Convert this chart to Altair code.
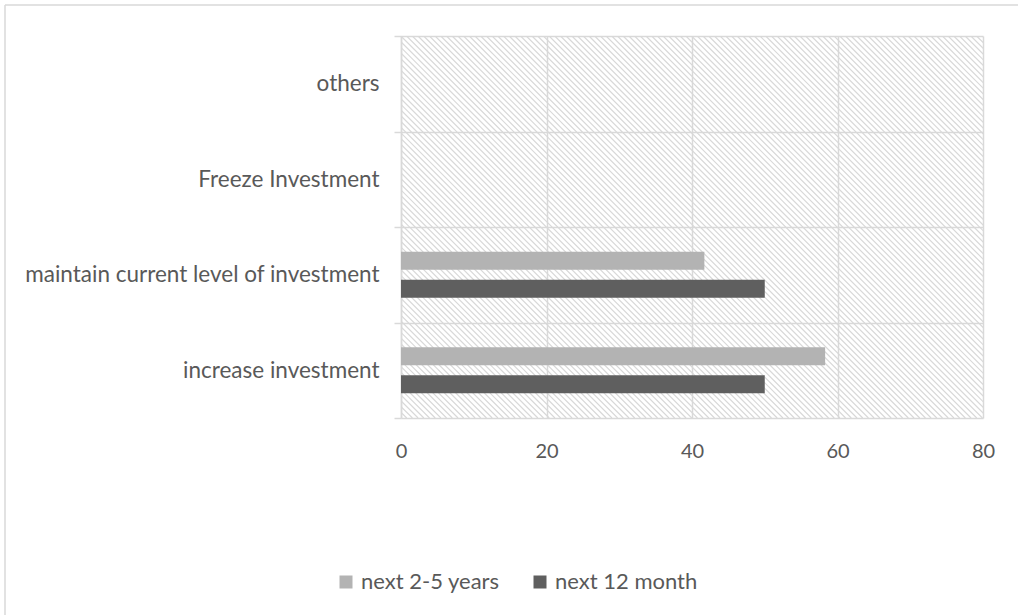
import altair as alt
import numpy as np
import pandas as pd

# Response categories, listed top to bottom as they appear on the axis
categories = [
    "others",
    "Freeze Investment",
    "maintain current level of investment",
    "increase investment ",
]
series_names = ["next 2-5 years", "next 12 month"]

# Share of respondents (%) per category; None = no response recorded
next_2_5_years = [None, None, 41.7, 58.3]
next_12_month = [None, None, 50.0, 50.0]

series_colors = ["#b3b3b3", "#5f5f5f"]

rows = []
for cat, a, b in zip(categories, next_2_5_years, next_12_month):
    rows.append({"category": cat, "series": series_names[0], "value": a})
    rows.append({"category": cat, "series": series_names[1], "value": b})
bars_df = pd.DataFrame(rows).dropna()

W, H = 582, 382
FONT = "Lato"
TEXT = "#595959"
GRID = "#d9d9d9"

# Diagonal hatch texture for the plot background (pixel-space units)
step = 5.7
starts = np.arange(-H, W + step, step)
hatch_df = pd.DataFrame({"x0": starts, "x1": starts + H, "y0": H, "y1": 0})

hatch = (
    alt.Chart(hatch_df)
    .mark_rule(color="#d8d8d8", strokeWidth=1.2, clip=True)
    .encode(
        x=alt.X("x0:Q", scale=alt.Scale(domain=[0, W], nice=False, zero=False), axis=None),
        x2="x1:Q",
        y=alt.Y("y0:Q", scale=alt.Scale(domain=[0, H], nice=False, zero=False), axis=None),
        y2="y1:Q",
    )
)

bars = (
    alt.Chart(bars_df)
    .mark_bar()
    .encode(
        x=alt.X(
            "value:Q",
            scale=alt.Scale(domain=[0, 80], nice=False),
            axis=alt.Axis(
                values=[0, 20, 40, 60, 80],
                title=None,
                domain=False,
                ticks=False,
                grid=True,
                gridColor=GRID,
                gridWidth=1.5,
                labelFlush=False,
                labelPadding=23,
                labelFont=FONT,
                labelFontSize=20,
                labelColor=TEXT,
            ),
        ),
        y=alt.Y(
            "category:N",
            scale=alt.Scale(domain=categories, paddingInner=0, paddingOuter=0),
            axis=alt.Axis(
                title=None,
                tickBand="extent",
                grid=True,
                gridColor=GRID,
                gridWidth=1.5,
                domainColor=GRID,
                domainWidth=1.5,
                tickColor=GRID,
                tickWidth=1.5,
                tickSize=7,
                labelPadding=15,
                # keep a trailing space visible as an en space
                labelExpr="replace(datum.label, / $/, '\u2002')",
                labelFont=FONT,
                labelFontSize=22.5,
                labelColor=TEXT,
                labelLimit=500,
            ),
        ),
        yOffset=alt.YOffset(
            "series:N",
            sort=series_names,
            scale=alt.Scale(paddingInner=0.357, paddingOuter=0.88),
        ),
        color=alt.Color(
            "series:N",
            sort=series_names,
            scale=alt.Scale(domain=series_names, range=series_colors),
            legend=alt.Legend(
                title=None,
                orient="none",
                direction="horizontal",
                legendX=-66,
                legendY=535,
                symbolType="square",
                symbolSize=169,
                symbolStrokeWidth=0,
                labelFont=FONT,
                labelFontSize=22,
                labelColor=TEXT,
                labelOffset=4,
                columnPadding=29,
            ),
        ),
    )
)

# Thin frame lines along the left and top edges of the figure
frame_left = alt.Chart(alt.Data(values=[{}])).mark_rule(color=GRID, strokeWidth=1.5).encode(
    x=alt.value(-396), y=alt.value(-31), y2=alt.value(H + 200)
)
frame_top = alt.Chart(alt.Data(values=[{}])).mark_rule(color=GRID, strokeWidth=1.5).encode(
    x=alt.value(-396), x2=alt.value(W + 40), y=alt.value(-31)
)

chart = (
    alt.layer(hatch, bars, frame_left, frame_top)
    .resolve_scale(x="independent", y="independent")
    .properties(
        width=W,
        height=H,
        padding={"left": 401, "top": 36, "right": 35, "bottom": 197},
        autosize=alt.AutoSizeParams(type="none"),
        background="white",
    )
    .configure_view(stroke=None)
)

chart.save("out.html", embed_options={"renderer": "svg", "actions": False})
